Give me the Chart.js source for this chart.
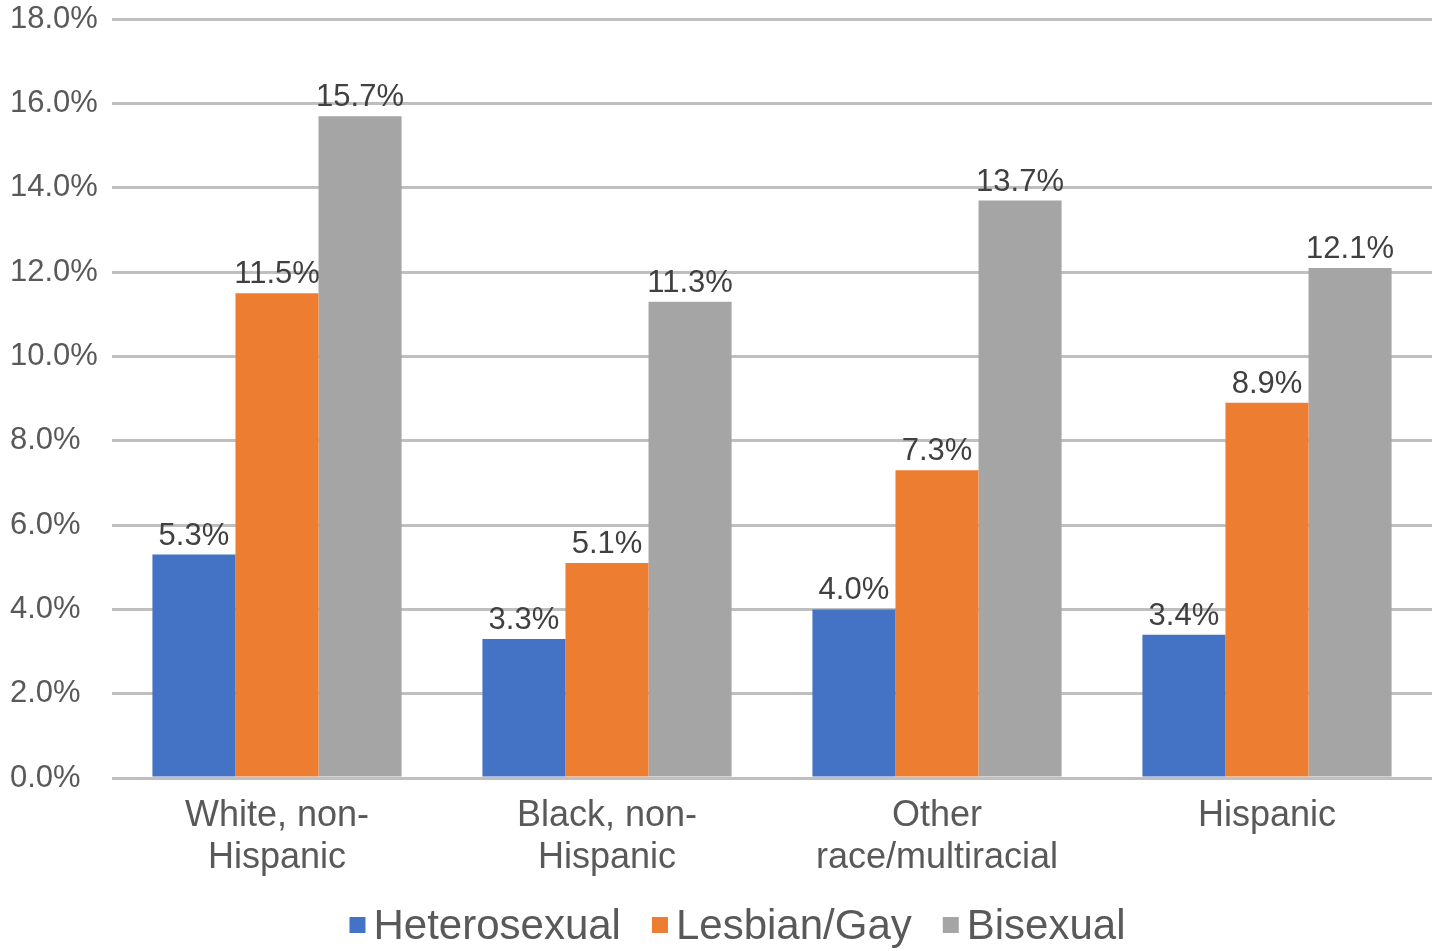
<!DOCTYPE html>
<html>
<head>
<meta charset="utf-8">
<script src="https://cdn.jsdelivr.net/npm/chart.js@4"></script>
<style>
  html, body { margin: 0; padding: 0; background: #fff; }
  #wrap { width: 1435px; height: 951px; position: relative; }
</style>
</head>
<body>
<div id="wrap"><canvas id="chart"></canvas></div>
<script>
// Kategori dan nilai per kelompok (persen)
const categories = [["White, non-", "Hispanic"], ["Black, non-", "Hispanic"], ["Other", "race/multiracial"], "Hispanic"];
const heterosexual = [5.3, 3.3, 4.0, 3.4];
const lesbianGay = [11.5, 5.1, 7.3, 8.9];
const bisexual = [15.7, 11.3, 13.7, 12.1];
const yTicks = [0, 2, 4, 6, 8, 10, 12, 14, 16, 18];

const FONT = '"Liberation Sans", Arial, sans-serif';
const TEXT = '#595959';

// Label nilai di atas setiap batang
const valueLabels = {
  id: 'valueLabels',
  afterDatasetsDraw(chart) {
    const ctx = chart.ctx;
    ctx.save();
    ctx.font = '31px ' + FONT;
    ctx.fillStyle = '#404040';
    ctx.textAlign = 'center';
    ctx.textBaseline = 'bottom';
    chart.data.datasets.forEach((ds, i) => {
      chart.getDatasetMeta(i).data.forEach((bar, j) => {
        ctx.fillText(ds.data[j].toFixed(1) + '%', bar.x, bar.y - 3);
      });
    });
    ctx.restore();
  }
};

// Legenda di bawah: kotak kecil rapat dengan teksnya
const bottomLegend = {
  id: 'bottomLegend',
  afterDraw(chart) {
    const ctx = chart.ctx;
    const box = 16, gap = 8, spacing = 31, cy = 927;
    ctx.save();
    ctx.font = '42px ' + FONT;
    ctx.textBaseline = 'middle';
    const items = chart.data.datasets.map(ds => ({
      text: ds.label,
      color: ds.backgroundColor,
      w: ctx.measureText(ds.label).width
    }));
    const total = items.reduce((s, it) => s + box + gap + it.w, 0) + spacing * (items.length - 1);
    let x = chart.width / 2 + 20 - total / 2;
    items.forEach(it => {
      ctx.fillStyle = it.color;
      ctx.fillRect(x, cy - box / 2 - 2, box, box);
      ctx.fillStyle = TEXT;
      ctx.fillText(it.text, x + box + gap, cy);
      x += box + gap + it.w + spacing;
    });
    ctx.restore();
  }
};

var el = document.getElementById("chart");

new Chart(el, {
  type: "bar",
  data: {
    labels: categories,
    datasets: [{
      label: 'Heterosexual',
      data: heterosexual,
      backgroundColor: "#4472C4"
    },
    {
      label: 'Lesbian/Gay',
      data: lesbianGay,
      backgroundColor: "#ED7D31"
    },
    {
      label: 'Bisexual',
      data: bisexual,
      backgroundColor: "#A5A5A5"
    }]
  },
  options: {
    responsive: true,
    maintainAspectRatio: false,
    animation: false,
    categoryPercentage: 0.755,
    barPercentage: 1.0,
    layout: { padding: { left: 10, right: 3, top: 0, bottom: 75 } },
    plugins: {
      tooltip: { enabled: false },
      legend: { display: false }
    },
    scales: {
      x: {
        afterFit(scale) {
          scale.height = 98;
        },
        grid: { display: false },
        border: { display: false },
        ticks: {
          font: { family: FONT, size: 36, lineHeight: 1.17 },
          color: TEXT,
          padding: 9,
          maxRotation: 0
        }
      },
      y: {
        min: 0,
        max: 18,
        afterBuildTicks(scale) {
          scale.ticks = yTicks.map(v => ({ value: v }));
        },
        afterFit(scale) {
          scale.width = 102;
        },
        grid: { color: '#BFBFBF', lineWidth: 3, drawTicks: false },
        border: { display: false },
        ticks: {
          font: { family: FONT, size: 31, lineHeight: 1.05 },
          color: TEXT,
          crossAlign: 'far',
          callback: v => v.toFixed(1) + '%'
        }
      }
    }
  },
  plugins: [valueLabels, bottomLegend]
});
</script>
</body>
</html>
